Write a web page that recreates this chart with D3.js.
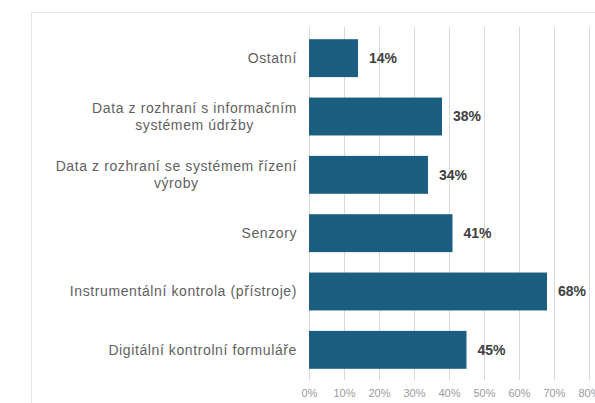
<!DOCTYPE html>
<html>
<head>
<meta charset="utf-8">
<script src="https://cdn.jsdelivr.net/npm/d3@7"></script>
<style>
  html, body { margin: 0; padding: 0; background: #fff; }
  svg { display: block; }
</style>
</head>
<body>
<svg id="chart" width="595" height="403"></svg>
<script>
// Categories, top to bottom; multi-line labels split on "\n"
const categories = [
  "Ostatní",
  "Data z rozhraní s informačním\nsystémem údržby",
  "Data z rozhraní se systémem řízení\nvýroby",
  "Senzory",
  "Instrumentální kontrola (přístroje)",
  "Digitální kontrolní formuláře"
];
const values = [0.14, 0.38, 0.34, 0.41, 0.68, 0.45];
const tickValues = [0, 0.1, 0.2, 0.3, 0.4, 0.5, 0.6, 0.7, 0.8];

const svg = d3.select("#chart");
const W = 595, H = 403;
const font = "'Liberation Sans', Arial, sans-serif";

// Outer chart frame
svg.append("path")
  .attr("d", `M31.5,${H} V12.5 H${W}`)
  .attr("fill", "none")
  .attr("stroke", "#e6e6e6")
  .attr("stroke-width", 1);

const x = d3.scaleLinear().domain([0, 0.8]).range([309, 589]);
const y = d3.scaleBand().domain(categories).range([29, 379]).paddingInner(0.35).paddingOuter(0.175);

// Vertical gridlines
svg.append("g").selectAll("line")
  .data(tickValues)
  .join("line")
  .attr("x1", d => Math.round(x(d)) + 0.5)
  .attr("x2", d => Math.round(x(d)) + 0.5)
  .attr("y1", 27)
  .attr("y2", 380)
  .attr("stroke", "#d9d9d9")
  .attr("stroke-width", 1);

// Bottom axis labels
const xAxis = d3.axisBottom(x)
  .tickValues(tickValues)
  .tickFormat(d3.format(".0%"))
  .tickSize(0)
  .tickPadding(0);
const gx = svg.append("g").attr("transform", "translate(0,389)").call(xAxis);
gx.select(".domain").remove();
gx.selectAll("text")
  .attr("fill", "#9a9a9a")
  .style("font-family", font)
  .style("font-size", "11px");

// Bars
svg.append("g").selectAll("rect")
  .data(categories)
  .join("rect")
  .attr("x", x(0))
  .attr("y", d => y(d))
  .attr("width", (d, i) => x(values[i]) - x(0))
  .attr("height", y.bandwidth())
  .attr("fill", "#1b5e82");

// Value labels
svg.append("g").selectAll("text")
  .data(categories)
  .join("text")
  .attr("x", (d, i) => x(values[i]) + 11)
  .attr("y", d => y(d) + y.bandwidth() / 2)
  .attr("dy", "0.35em")
  .attr("fill", "#404040")
  .style("font-family", font)
  .style("font-size", "14px")
  .style("font-weight", "bold")
  .text((d, i) => d3.format(".0%")(values[i]));

// Category labels: each line is its own end-anchored text; lines are
// centered on each other and the block is right-aligned next to the bars
const labelRight = 297;
const lineH = 17;
const lab = svg.append("g").selectAll("g")
  .data(categories)
  .join("g");
lab.each(function (d) {
  const lines = d.split("\n");
  const g = d3.select(this);
  const cy = y(d) + y.bandwidth() / 2;
  const texts = lines.map((ln, k) => g.append("text")
    .attr("x", labelRight)
    .attr("y", cy + (k - (lines.length - 1) / 2) * lineH)
    .attr("dy", "0.35em")
    .attr("text-anchor", "end")
    .attr("fill", "#5f5f5f")
    .style("font-family", font)
    .style("font-size", "14px")
    .style("letter-spacing", "0.6px")
    .text(ln));
  const widths = texts.map(t => t.node().getBoundingClientRect().width);
  const maxW = d3.max(widths);
  texts.forEach((t, k) => t.attr("x", labelRight - (maxW - widths[k]) / 2));
});
</script>
</body>
</html>
